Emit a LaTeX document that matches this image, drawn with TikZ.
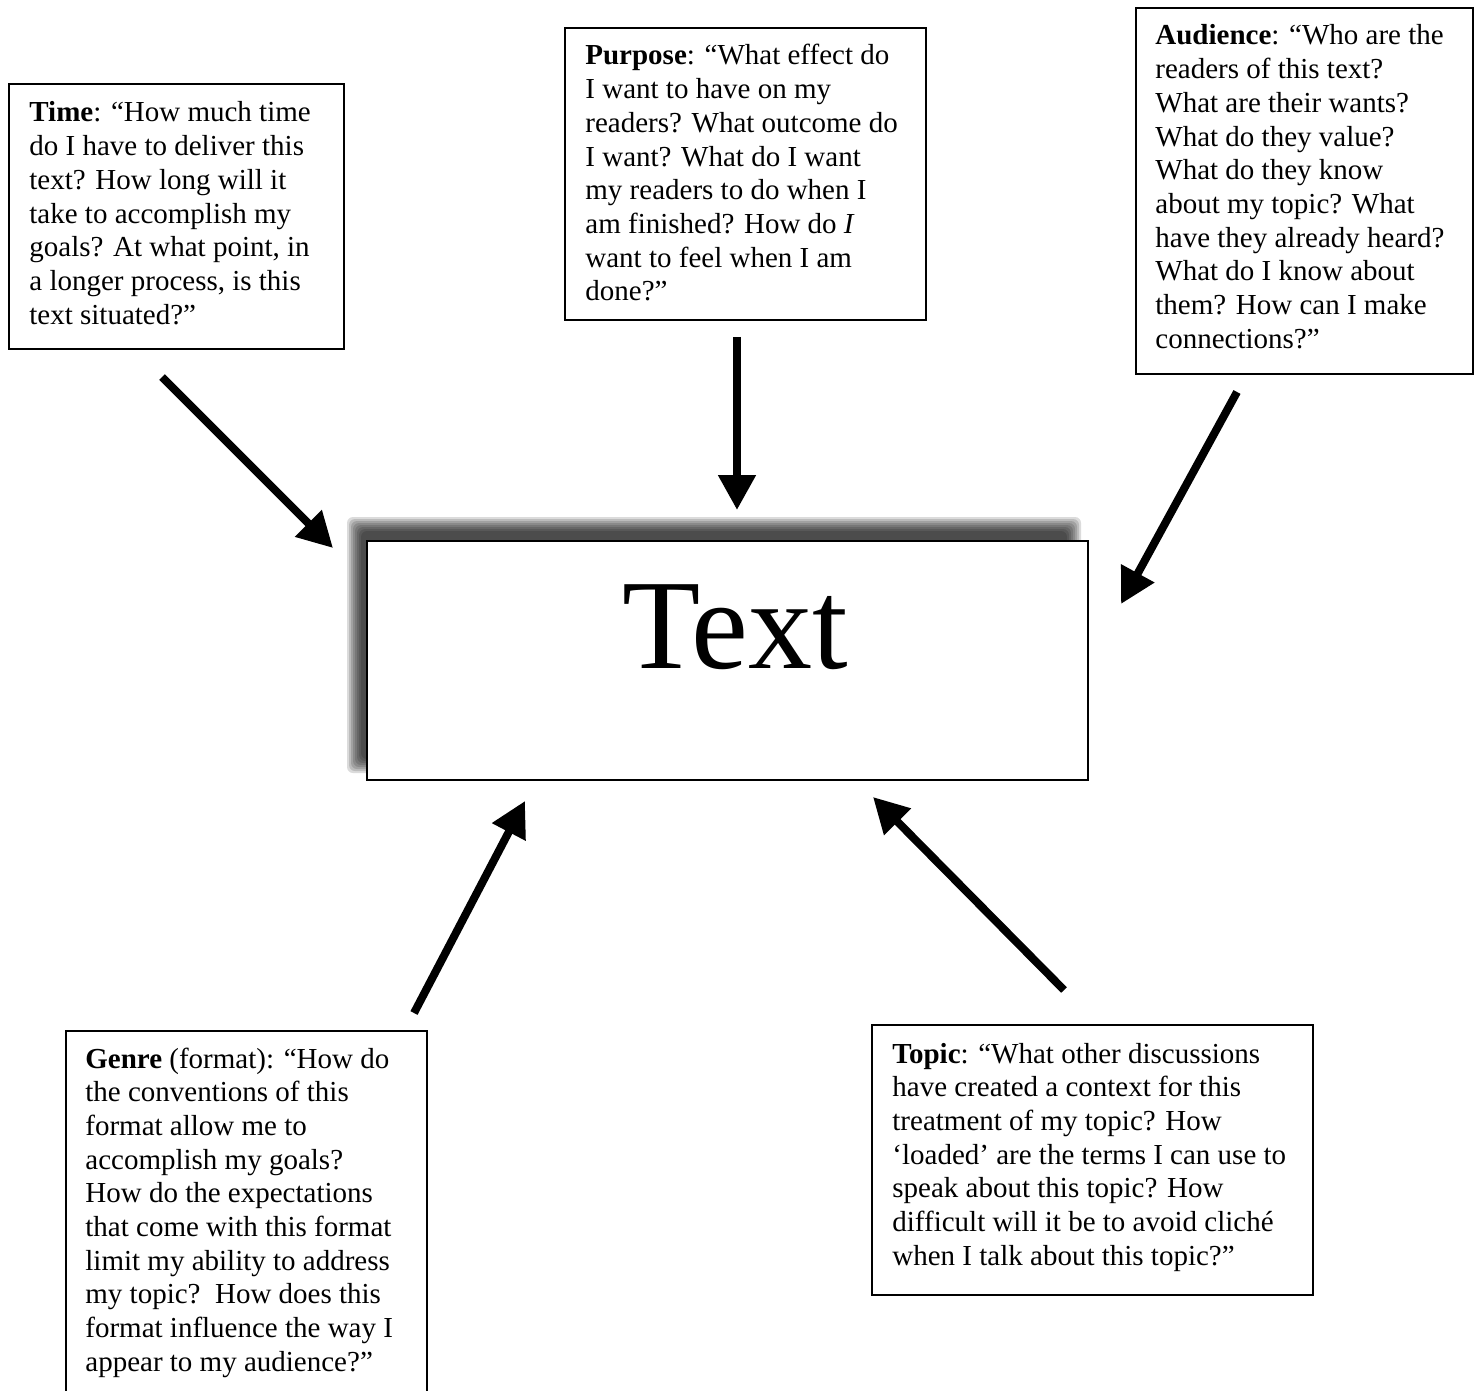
\documentclass[tikz,border=0pt]{standalone}
\usepackage{fontspec}
\setmainfont{Liberation Serif}
\usetikzlibrary{arrows.meta}
\newcommand{\boxtext}[1]{\parbox[t]{320pt}{\fontsize{14.5pt}{16.85pt}\selectfont\raggedright #1}}
\tikzset{
  qbox/.style={draw, line width=1pt, inner sep=0pt, anchor=north west, fill=white},
  qtext/.style={inner sep=0pt, anchor=base west},
  arr/.style={line width=4pt, -{Triangle[length=17.5pt,width=18pt]}},
  shadowlayer/.style={fill=black, opacity=0.14, draw=none, rounded corners=3pt}
}
\begin{document}
\begin{tikzpicture}[x=0.5pt,y=-0.5pt]
\useasboundingbox (0,0) rectangle (1478,1391);
% shadow of central box (soft, upper-left)
\foreach \d in {-7,-5,-3,-1,1,3,5,7}{
  \fill[shadowlayer] (354-\d,524-\d) rectangle (1074+\d,766+\d);
}
\node[qbox, minimum width=360.5pt, minimum height=119.5pt] (main) at (366,540) {};
\node[inner sep=0pt, anchor=base, font=\fontsize{64pt}{70pt}\selectfont] (mainlbl) at (735,668) {Text};

% question boxes
\node[qbox, minimum width=167.5pt, minimum height=132.5pt] (time) at (8,83) {};
\node[qtext] (timet) at (29,122) {\boxtext{\textbf{Time}: “How much time\\
do I have to deliver this\\
text? How long will it\\
take to accomplish my\\
goals? At what point, in\\
a longer process, is this\\
text situated?”}};

\node[qbox, minimum width=180.5pt, minimum height=146pt] (purpose) at (564,27) {};
\node[qtext] (purposet) at (585,65) {\boxtext{\textbf{Purpose}: “What effect do\\
I want to have on my\\
readers? What outcome do\\
I want? What do I want\\
my readers to do when I\\
am finished? How do \textit{I}\\
want to feel when I am\\
done?”}};

\node[qbox, minimum width=168.5pt, minimum height=183pt] (audience) at (1135,7) {};
\node[qtext] (audiencet) at (1155,45) {\boxtext{\textbf{Audience}: “Who are the\\
readers of this text?\\
What are their wants?\\
What do they value?\\
What do they know\\
about my topic? What\\
have they already heard?\\
What do I know about\\
them? How can I make\\
connections?”}};

\node[qbox, minimum width=180.5pt, minimum height=186pt] (genre) at (65,1030) {};
\node[qtext] (genret) at (85,1068) {\boxtext{\textbf{Genre} (format): “How do\\
the conventions of this\\
format allow me to\\
accomplish my goals?\\
How do the expectations\\
that come with this format\\
limit my ability to address\\
my topic?\ \ How does this\\
format influence the way I\\
appear to my audience?”}};

\node[qbox, minimum width=220.5pt, minimum height=135pt] (topic) at (871,1024) {};
\node[qtext] (topict) at (892,1063) {\boxtext{\textbf{Topic}: “What other discussions\\
have created a context for this\\
treatment of my topic? How\\
‘loaded’ are the terms I can use to\\
speak about this topic? How\\
difficult will it be to avoid cliché\\
when I talk about this topic?”}};

% arrow end points
\coordinate (timeA) at (162,377);
\coordinate (timeB) at (333,548);
\coordinate (purpA) at (737,337);
\coordinate (purpB) at (737,510);
\coordinate (audA) at (1237,392);
\coordinate (audB) at (1121,604);
\coordinate (genA) at (414,1013);
\coordinate (genB) at (525,801);
\coordinate (topA) at (1064,990);
\coordinate (topB) at (873,797);

\draw[arr] (timeA) -- (timeB);
\draw[arr] (purpA) -- (purpB);
\draw[arr] (audA) -- (audB);
\draw[arr] (genA) -- (genB);
\draw[arr] (topA) -- (topB);
\end{tikzpicture}
\end{document}
